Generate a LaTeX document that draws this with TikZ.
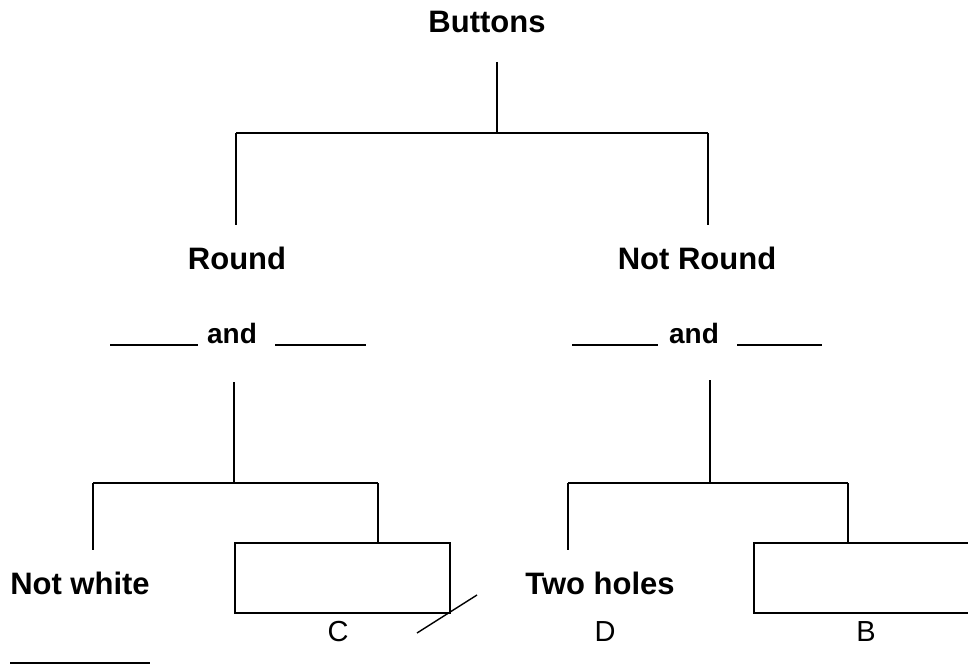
\documentclass[tikz,border=0pt]{standalone}
\usepackage{fontspec}
\setmainfont{Liberation Sans}
\begin{document}
\begin{tikzpicture}[x=1pt,y=-1pt,
  lbl/.style={font=\bfseries\fontsize{31}{36}\selectfont, inner sep=0pt, anchor=center},
  andlbl/.style={font=\bfseries\fontsize{28}{34}\selectfont, inner sep=0pt, anchor=center},
  letter/.style={font=\fontsize{29}{34}\selectfont, inner sep=0pt, anchor=center},
  ln/.style={line width=1.7pt},
  thinln/.style={line width=1.4pt},
  blank/.style={line width=1.8pt},
  answerbox/.style={draw, line width=1.8pt, inner sep=0pt, minimum height=70pt}]
\useasboundingbox (0,0) rectangle (968,668);

% texts
\node[lbl] (buttons) at (487,22) {Buttons};
\node[lbl] (round) at (237,258) {Round};
\node[lbl] (notround) at (697,258) {Not Round};
\node[andlbl] (andL) at (232,333) {and};
\node[andlbl] (andR) at (694,333) {and};
\node[lbl] (notwhite) at (80,583) {Not white};
\node[lbl] (twoholes) at (600,583) {Two holes};
\node[answerbox, minimum width=215pt] (boxC) at (342.5,578) {};
\node[answerbox, minimum width=221pt] (boxB) at (864.5,578) {};
\node[letter] (labC) at (338,632) {C};
\node[letter] (labD) at (605,632) {D};
\node[letter] (labB) at (866,632) {B};

% junction coordinates
\coordinate (topstart) at (497,62);
\coordinate (topj) at (497,133);
\coordinate (jL) at (236,133);
\coordinate (jR) at (708,133);
\coordinate (roundtop) at (236,225);
\coordinate (notroundtop) at (708,225);
\coordinate (lstart) at (234,382);
\coordinate (lj) at (234,483);
\coordinate (ljL) at (93,483);
\coordinate (ljR) at (378,483);
\coordinate (nwtop) at (93,550);
\coordinate (rstart) at (710,380);
\coordinate (rj) at (710,483);
\coordinate (rjL) at (568,483);
\coordinate (rjR) at (848,483);
\coordinate (thtop) at (568,550);

% tree lines
\draw[ln] (topstart) -- (topj);
\draw[ln] (jL) -- (jR);
\draw[ln] (jL) -- (roundtop);
\draw[ln] (jR) -- (notroundtop);
\draw[thinln] (lstart) -- (lj);
\draw[thinln] (ljL) -- (ljR);
\draw[thinln] (ljL) -- (nwtop);
\draw[thinln] (ljR) -- (boxC.north -| ljR);
\draw[thinln] (rstart) -- (rj);
\draw[thinln] (rjL) -- (rjR);
\draw[thinln] (rjL) -- (thtop);
\draw[thinln] (rjR) -- (boxB.north -| rjR);

% blanks
\coordinate (bL1a) at (110,345); \coordinate (bL1b) at (198,345);
\coordinate (bL2a) at (275,345); \coordinate (bL2b) at (366,345);
\coordinate (bR1a) at (572,345); \coordinate (bR1b) at (658,345);
\coordinate (bR2a) at (737,345); \coordinate (bR2b) at (822,345);
\coordinate (bBa) at (10,663); \coordinate (bBb) at (150,663);
\draw[blank] (bL1a) -- (bL1b);
\draw[blank] (bL2a) -- (bL2b);
\draw[blank] (bR1a) -- (bR1b);
\draw[blank] (bR2a) -- (bR2b);
\draw[blank] (bBa) -- (bBb);

% diagonal stroke at box C
\coordinate (diagA) at (417,633);
\coordinate (diagB) at (477,595);
\draw[thinln] (diagA) -- (diagB);
\end{tikzpicture}
\end{document}
